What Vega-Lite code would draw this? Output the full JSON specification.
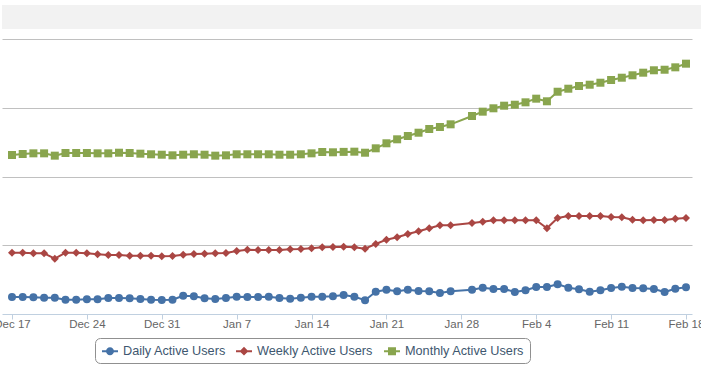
{
  "$schema": "https://vega.github.io/schema/vega-lite/v6.json",
  "padding": {"top": 5, "left": -7, "right": 0, "bottom": 0},
  "spacing": 10,
  "config": {
    "font": "Liberation Sans",
    "view": {"stroke": null},
    "background": "white"
  },
  "vconcat": [
    {
      "width": 701,
      "height": 24,
      "view": {"fill": "#f2f2f2", "stroke": null},
      "data": {"values": [{}]},
      "mark": {"type": "point", "opacity": 0}
    },
    {
      "width": 690,
      "height": 275,
      "data": {
        "values": [
          {"date": "2012-12-17", "Daily Active Users": 247, "Weekly Active Users": 892, "Monthly Active Users": 2313},
          {"date": "2012-12-18", "Daily Active Users": 247, "Weekly Active Users": 892, "Monthly Active Users": 2327},
          {"date": "2012-12-19", "Daily Active Users": 243, "Weekly Active Users": 883, "Monthly Active Users": 2337},
          {"date": "2012-12-20", "Daily Active Users": 237, "Weekly Active Users": 883, "Monthly Active Users": 2337},
          {"date": "2012-12-21", "Daily Active Users": 237, "Weekly Active Users": 804, "Monthly Active Users": 2303},
          {"date": "2012-12-22", "Daily Active Users": 208, "Weekly Active Users": 892, "Monthly Active Users": 2342},
          {"date": "2012-12-23", "Daily Active Users": 208, "Weekly Active Users": 892, "Monthly Active Users": 2342},
          {"date": "2012-12-24", "Daily Active Users": 214, "Weekly Active Users": 883, "Monthly Active Users": 2342},
          {"date": "2012-12-25", "Daily Active Users": 214, "Weekly Active Users": 868, "Monthly Active Users": 2337},
          {"date": "2012-12-26", "Daily Active Users": 233, "Weekly Active Users": 858, "Monthly Active Users": 2337},
          {"date": "2012-12-27", "Daily Active Users": 233, "Weekly Active Users": 858, "Monthly Active Users": 2346},
          {"date": "2012-12-28", "Daily Active Users": 228, "Weekly Active Users": 848, "Monthly Active Users": 2342},
          {"date": "2012-12-29", "Daily Active Users": 218, "Weekly Active Users": 848, "Monthly Active Users": 2332},
          {"date": "2012-12-30", "Daily Active Users": 208, "Weekly Active Users": 848, "Monthly Active Users": 2323},
          {"date": "2012-12-31", "Daily Active Users": 204, "Weekly Active Users": 839, "Monthly Active Users": 2317},
          {"date": "2013-01-01", "Daily Active Users": 208, "Weekly Active Users": 844, "Monthly Active Users": 2308},
          {"date": "2013-01-02", "Daily Active Users": 266, "Weekly Active Users": 863, "Monthly Active Users": 2317},
          {"date": "2013-01-03", "Daily Active Users": 257, "Weekly Active Users": 873, "Monthly Active Users": 2323},
          {"date": "2013-01-04", "Daily Active Users": 228, "Weekly Active Users": 877, "Monthly Active Users": 2317},
          {"date": "2013-01-05", "Daily Active Users": 218, "Weekly Active Users": 883, "Monthly Active Users": 2303},
          {"date": "2013-01-06", "Daily Active Users": 233, "Weekly Active Users": 887, "Monthly Active Users": 2308},
          {"date": "2013-01-07", "Daily Active Users": 252, "Weekly Active Users": 916, "Monthly Active Users": 2323},
          {"date": "2013-01-08", "Daily Active Users": 247, "Weekly Active Users": 935, "Monthly Active Users": 2323},
          {"date": "2013-01-09", "Daily Active Users": 247, "Weekly Active Users": 931, "Monthly Active Users": 2323},
          {"date": "2013-01-10", "Daily Active Users": 252, "Weekly Active Users": 931, "Monthly Active Users": 2323},
          {"date": "2013-01-11", "Daily Active Users": 233, "Weekly Active Users": 931, "Monthly Active Users": 2317},
          {"date": "2013-01-12", "Daily Active Users": 223, "Weekly Active Users": 941, "Monthly Active Users": 2317},
          {"date": "2013-01-13", "Daily Active Users": 237, "Weekly Active Users": 945, "Monthly Active Users": 2323},
          {"date": "2013-01-14", "Daily Active Users": 252, "Weekly Active Users": 956, "Monthly Active Users": 2337},
          {"date": "2013-01-15", "Daily Active Users": 252, "Weekly Active Users": 970, "Monthly Active Users": 2356},
          {"date": "2013-01-16", "Daily Active Users": 257, "Weekly Active Users": 975, "Monthly Active Users": 2352},
          {"date": "2013-01-17", "Daily Active Users": 276, "Weekly Active Users": 977, "Monthly Active Users": 2358},
          {"date": "2013-01-18", "Daily Active Users": 252, "Weekly Active Users": 970, "Monthly Active Users": 2361},
          {"date": "2013-01-19", "Daily Active Users": 199, "Weekly Active Users": 950, "Monthly Active Users": 2346},
          {"date": "2013-01-20", "Daily Active Users": 324, "Weekly Active Users": 1018, "Monthly Active Users": 2410},
          {"date": "2013-01-21", "Daily Active Users": 353, "Weekly Active Users": 1081, "Monthly Active Users": 2483},
          {"date": "2013-01-22", "Daily Active Users": 330, "Weekly Active Users": 1116, "Monthly Active Users": 2541},
          {"date": "2013-01-23", "Daily Active Users": 353, "Weekly Active Users": 1164, "Monthly Active Users": 2589},
          {"date": "2013-01-24", "Daily Active Users": 335, "Weekly Active Users": 1203, "Monthly Active Users": 2637},
          {"date": "2013-01-25", "Daily Active Users": 330, "Weekly Active Users": 1247, "Monthly Active Users": 2691},
          {"date": "2013-01-26", "Daily Active Users": 305, "Weekly Active Users": 1290, "Monthly Active Users": 2720},
          {"date": "2013-01-27", "Daily Active Users": 330, "Weekly Active Users": 1290, "Monthly Active Users": 2759},
          {"date": "2013-01-29", "Daily Active Users": 353, "Weekly Active Users": 1324, "Monthly Active Users": 2880},
          {"date": "2013-01-30", "Daily Active Users": 383, "Weekly Active Users": 1343, "Monthly Active Users": 2943},
          {"date": "2013-01-31", "Daily Active Users": 364, "Weekly Active Users": 1363, "Monthly Active Users": 2992},
          {"date": "2013-02-01", "Daily Active Users": 364, "Weekly Active Users": 1363, "Monthly Active Users": 3030},
          {"date": "2013-02-02", "Daily Active Users": 320, "Weekly Active Users": 1363, "Monthly Active Users": 3044},
          {"date": "2013-02-03", "Daily Active Users": 345, "Weekly Active Users": 1363, "Monthly Active Users": 3079},
          {"date": "2013-02-04", "Daily Active Users": 393, "Weekly Active Users": 1363, "Monthly Active Users": 3132},
          {"date": "2013-02-05", "Daily Active Users": 393, "Weekly Active Users": 1247, "Monthly Active Users": 3094},
          {"date": "2013-02-06", "Daily Active Users": 432, "Weekly Active Users": 1396, "Monthly Active Users": 3233},
          {"date": "2013-02-07", "Daily Active Users": 383, "Weekly Active Users": 1425, "Monthly Active Users": 3277},
          {"date": "2013-02-08", "Daily Active Users": 359, "Weekly Active Users": 1425, "Monthly Active Users": 3316},
          {"date": "2013-02-09", "Daily Active Users": 324, "Weekly Active Users": 1425, "Monthly Active Users": 3335},
          {"date": "2013-02-10", "Daily Active Users": 345, "Weekly Active Users": 1425, "Monthly Active Users": 3364},
          {"date": "2013-02-11", "Daily Active Users": 378, "Weekly Active Users": 1411, "Monthly Active Users": 3404},
          {"date": "2013-02-12", "Daily Active Users": 397, "Weekly Active Users": 1407, "Monthly Active Users": 3437},
          {"date": "2013-02-13", "Daily Active Users": 378, "Weekly Active Users": 1372, "Monthly Active Users": 3472},
          {"date": "2013-02-14", "Daily Active Users": 374, "Weekly Active Users": 1363, "Monthly Active Users": 3510},
          {"date": "2013-02-15", "Daily Active Users": 364, "Weekly Active Users": 1367, "Monthly Active Users": 3545},
          {"date": "2013-02-16", "Daily Active Users": 320, "Weekly Active Users": 1367, "Monthly Active Users": 3553},
          {"date": "2013-02-17", "Daily Active Users": 368, "Weekly Active Users": 1386, "Monthly Active Users": 3588},
          {"date": "2013-02-18", "Daily Active Users": 388, "Weekly Active Users": 1396, "Monthly Active Users": 3641}
        ]
      },
      "transform": [
        {"fold": ["Daily Active Users", "Weekly Active Users", "Monthly Active Users"], "as": ["series", "value"]}
      ],
      "encoding": {
        "x": {
          "field": "date",
          "type": "temporal",
          "title": null,
          "scale": {
            "type": "utc",
            "domain": [
              {"year": 2012, "month": 12, "date": 16, "hours": 1, "minutes": 34, "utc": true},
              {"year": 2013, "month": 2, "date": 18, "hours": 13, "minutes": 28, "utc": true}
            ]
          },
          "axis": {
            "values": [
              {"year": 2012, "month": 12, "date": 17, "utc": true},
              {"year": 2012, "month": 12, "date": 24, "utc": true},
              {"year": 2012, "month": 12, "date": 31, "utc": true},
              {"year": 2013, "month": 1, "date": 7, "utc": true},
              {"year": 2013, "month": 1, "date": 14, "utc": true},
              {"year": 2013, "month": 1, "date": 21, "utc": true},
              {"year": 2013, "month": 1, "date": 28, "utc": true},
              {"year": 2013, "month": 2, "date": 4, "utc": true},
              {"year": 2013, "month": 2, "date": 11, "utc": true},
              {"year": 2013, "month": 2, "date": 18, "utc": true}
            ],
            "format": "%b %-d",
            "grid": false,
            "domainColor": "#C0D0E0",
            "tickColor": "#C0D0E0",
            "tickSize": 5,
            "labelColor": "#666666",
            "labelFont": "Liberation Sans",
            "labelFontSize": 11.5,
            "labelPadding": -1,
            "labelFlush": false,
            "labelOverlap": false
          }
        },
        "y": {
          "field": "value",
          "type": "quantitative",
          "title": null,
          "scale": {"domain": [0, 4000], "nice": false, "zero": false},
          "axis": {
            "values": [1000, 2000, 3000, 4000],
            "labels": false,
            "ticks": false,
            "domain": false,
            "grid": true,
            "gridColor": "#C0C0C0",
            "gridOpacity": 1,
            "minExtent": 0,
            "maxExtent": 0
          }
        },
        "color": {
          "field": "series",
          "type": "nominal",
          "scale": {
            "domain": ["Daily Active Users", "Weekly Active Users", "Monthly Active Users"],
            "range": ["#4572A7", "#AA4643", "#89A54E"]
          },
          "legend": {
            "orient": "none",
            "legendX": 93,
            "legendY": 333,
            "direction": "horizontal",
            "title": null,
            "padding": 5,
            "strokeColor": "#909090",
            "cornerRadius": 5,
            "symbolSize": 256,
            "symbolType": "circle",
            "symbolOffset": 2,
            "labelOffset": 5,
            "columnPadding": 8,
            "labelFont": "Liberation Sans",
            "labelFontSize": 12.7,
            "labelColor": "#3E576F",
            "symbolStrokeWidth": 0,
            "encode": {
              "symbols": {
                "update": {
                  "shape": {"signal": "datum.value === 'Daily Active Users' ? 'M-1,-0.125H1V0.125H-1Z M0.5,0A0.5,0.5,0,1,1,-0.5,0A0.5,0.5,0,1,1,0.5,0Z' : datum.value === 'Weekly Active Users' ? 'M-1,-0.125H1V0.125H-1Z M0,-0.55L0.55,0L0,0.55L-0.55,0Z' : 'M-1,-0.125H1V0.125H-1Z M-0.5,-0.5H0.5V0.5H-0.5Z'"},
                  "fill": {"signal": "datum.value === 'Daily Active Users' ? '#4572A7' : datum.value === 'Weekly Active Users' ? '#AA4643' : '#89A54E'"},
                  "size": {"value": 256},
                  "opacity": {"value": 1}
                }
              }
            }
          }
        }
      },
      "layer": [
        {
          "mark": {"type": "line", "strokeWidth": 2, "strokeJoin": "round"}
        },
        {
          "mark": {
            "type": "point",
            "filled": true,
            "opacity": 1,
            "size": 64,
            "strokeWidth": 0,
            "shape": {"expr": "datum.series === 'Daily Active Users' ? 'circle' : datum.series === 'Weekly Active Users' ? 'diamond' : 'square'"}
          }
        }
      ]
    }
  ]
}
